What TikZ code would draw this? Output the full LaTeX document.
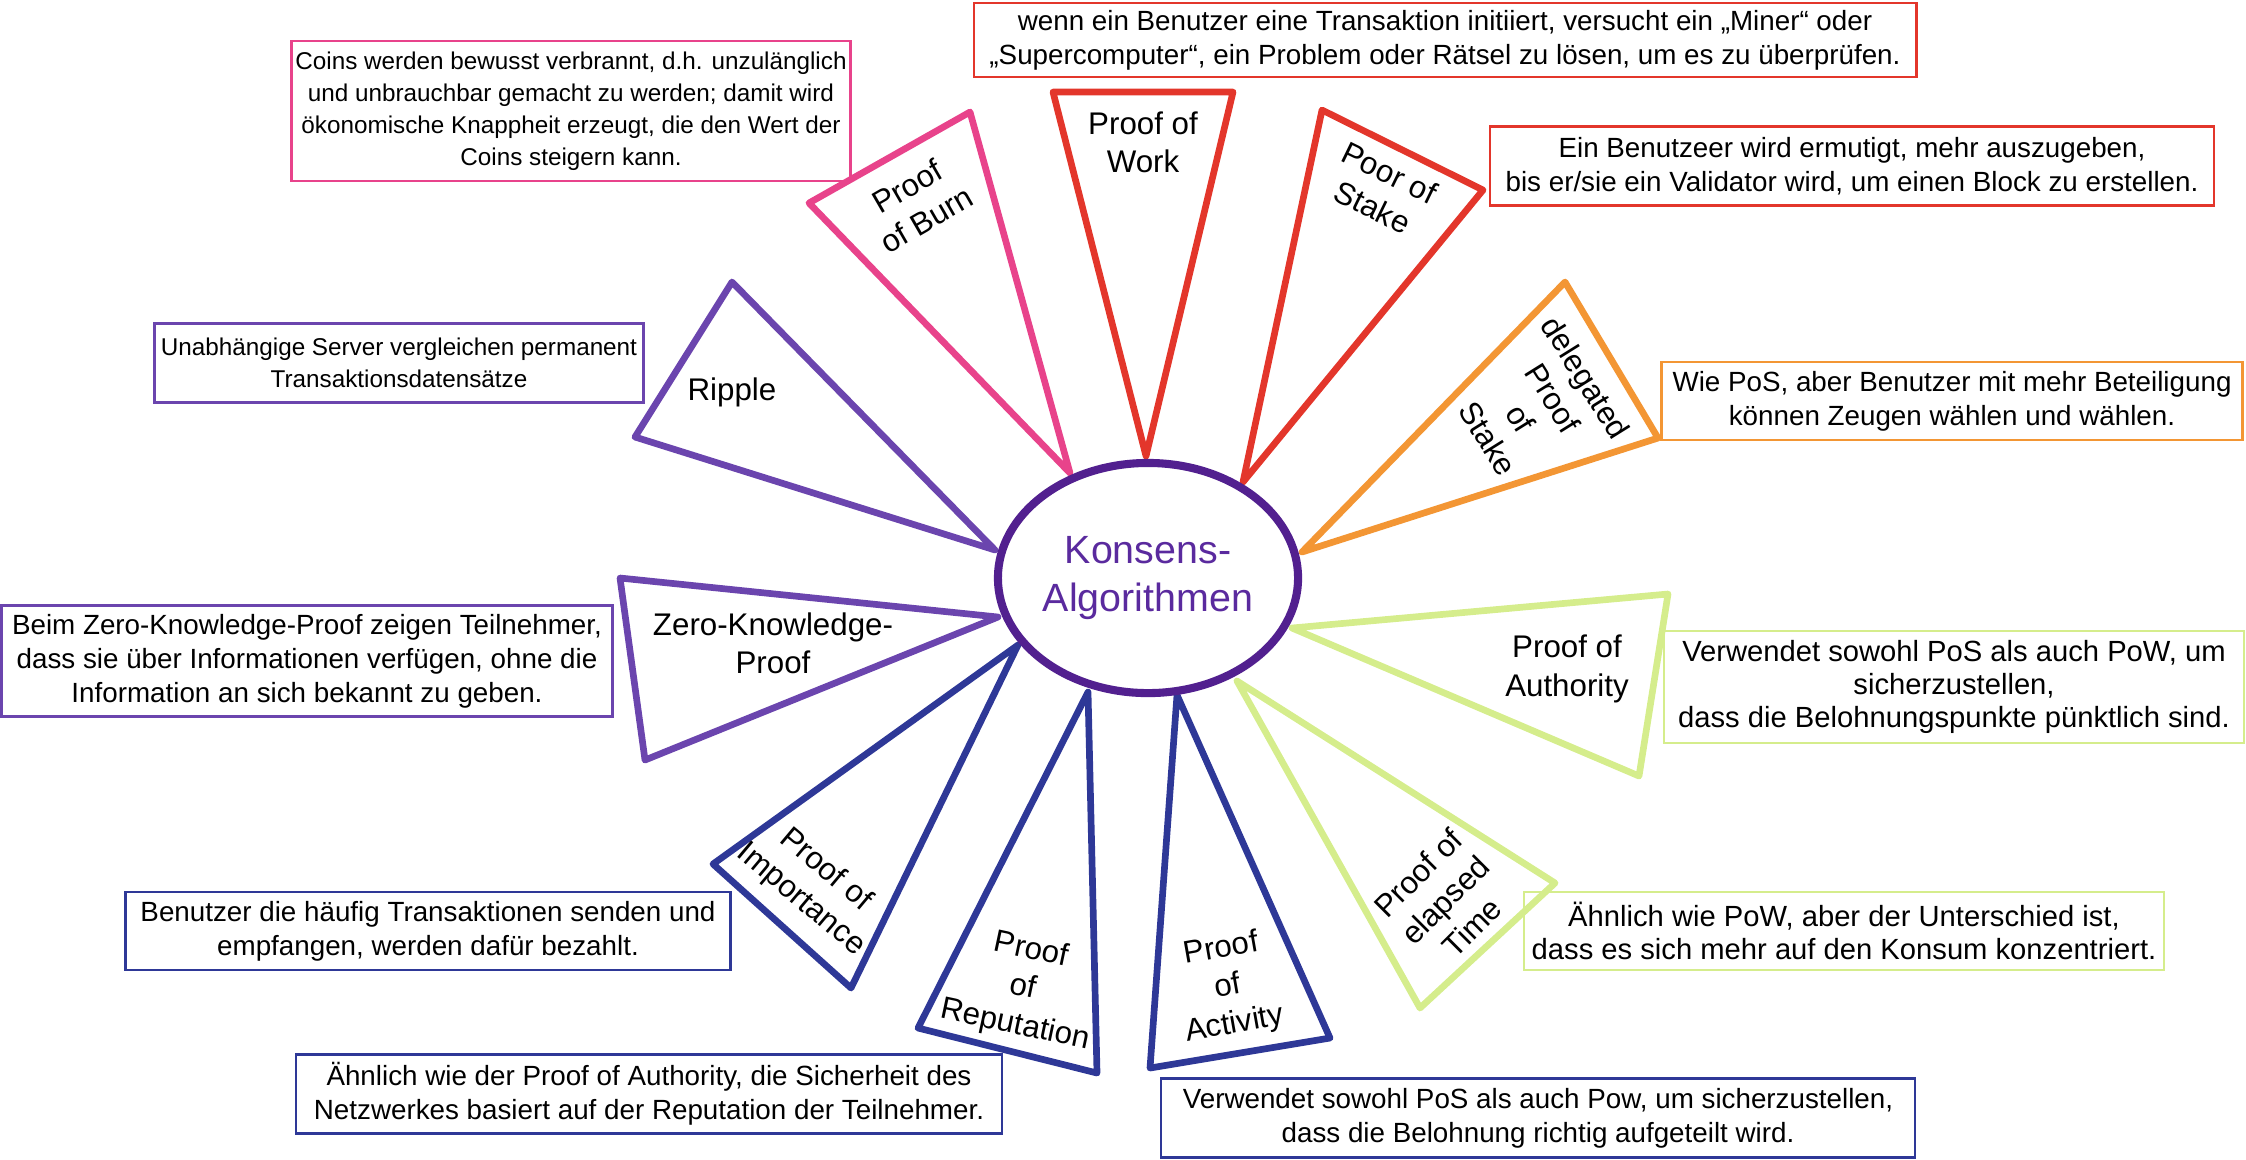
\documentclass[tikz,border=0pt]{standalone}
\usepackage{fontspec}
\setmainfont{Liberation Sans}
\usepackage{tikz}
\usetikzlibrary{shapes,positioning}

\definecolor{burnc}{HTML}{E8438B}
\definecolor{workc}{HTML}{E3362B}
\definecolor{dposc}{HTML}{F39634}
\definecolor{authc}{HTML}{D5ED8C}
\definecolor{ripc}{HTML}{6B45AE}
\definecolor{actc}{HTML}{2E3897}
\definecolor{hubc}{HTML}{52208F}
\definecolor{hubtc}{HTML}{5A2A9E}

\begin{document}
\begin{tikzpicture}[x=0.01cm, y=-0.01cm,
  tri/.style={line width=1.9pt, line join=round},
  info/.style={line width=0.7pt, inner sep=0pt, align=center, font=\fontsize{7.9}{9.7}\selectfont},
  small/.style={font=\fontsize{6.9}{9.1}\selectfont},
  large/.style={font=\fontsize{8.3}{9.4}\selectfont},
  lbl/.style={align=center, inner sep=0pt, font=\fontsize{8.9}{10.9}\selectfont},
  hub/.style={ellipse, draw=hubc, line width=2.3pt, fill=white, inner sep=0pt,
    minimum width=3cm, minimum height=2.3cm, text=hubtc, align=center,
    font=\fontsize{11.2}{13.4}\selectfont}]
   \useasboundingbox (0,0) rectangle (2246,1159);

   %descriptions
   \node[info, small, draw=burnc, minimum width=5.59cm, minimum height=1.40cm] (tpob) at (571,111)
     {Coins werden bewusst verbrannt, d.h. unzulänglich\\und unbrauchbar gemacht zu werden; damit wird\\ökonomische Knappheit erzeugt, die den Wert der\\Coins steigern kann.};
   \node[info, draw=workc, minimum width=9.42cm, minimum height=0.74cm] (tpow) at (1445,40)
     {wenn ein Benutzer eine Transaktion initiiert, versucht ein „Miner“ oder\\„Supercomputer“, ein Problem oder Rätsel zu lösen, um es zu überprüfen.};
   \node[info, draw=workc, minimum width=7.24cm, minimum height=0.79cm] (tpos) at (1852,166)
     {Ein Benutzeer wird ermutigt, mehr auszugeben,\\bis er/sie ein Validator wird, um einen Block zu erstellen.};
   \node[info, draw=dposc, minimum width=5.81cm, minimum height=0.78cm] (tdpos) at (1952,401)
     {Wie PoS, aber Benutzer mit mehr Beteiligung\\können Zeugen wählen und wählen.};
   \node[info, large, draw=authc, minimum width=5.80cm, minimum height=1.12cm] (tpoa) at (1954,687)
     {Verwendet sowohl PoS als auch PoW, um\\sicherzustellen,\\dass die Belohnungspunkte pünktlich sind.};
   \node[info, large, draw=authc, minimum width=6.40cm, minimum height=0.78cm] (tpet) at (1844,931)
     {Ähnlich wie PoW, aber der Unterschied ist,\\dass es sich mehr auf den Konsum konzentriert.};
   \node[info, draw=actc, minimum width=7.54cm, minimum height=0.79cm] (tpac) at (1538,1118)
     {Verwendet sowohl PoS als auch Pow, um sicherzustellen,\\dass die Belohnung richtig aufgeteilt wird.};
   \node[info, draw=actc, minimum width=7.06cm, minimum height=0.79cm] (tprp) at (649,1094)
     {Ähnlich wie der Proof of Authority, die Sicherheit des\\Netzwerkes basiert auf der Reputation der Teilnehmer.};
   \node[info, draw=actc, minimum width=6.05cm, minimum height=0.78cm] (tpim) at (428,931)
     {Benutzer die häufig Transaktionen senden und\\empfangen, werden dafür bezahlt.};
   \node[info, draw=ripc, minimum width=6.11cm, minimum height=1.11cm] (tzkp) at (307,661)
     {Beim Zero-Knowledge-Proof zeigen Teilnehmer,\\dass sie über Informationen verfügen, ohne die\\Information an sich bekannt zu geben.};
   \node[info, small, draw=ripc, minimum width=4.89cm, minimum height=0.79cm] (trip) at (399,363)
     {Unabhängige Server vergleichen permanent\\Transaktionsdatensätze};

   %triangles
   \draw[tri, burnc] (1070,473) -- (809,203) -- (970,112) -- cycle;
   \draw[tri, workc] (1146,456) -- (1053,92) -- (1233,92) -- cycle;
   \draw[tri, workc] (1243,482) -- (1322,110) -- (1483,190) -- cycle;
   \draw[tri, dposc] (1302,552) -- (1565,282) -- (1658,438) -- cycle;
   \draw[tri, authc] (1292,628) -- (1668,594) -- (1639,776) -- cycle;
   \draw[tri, authc] (1237,681) -- (1555,883) -- (1420,1008) -- cycle;
   \draw[tri, actc] (1177,695) -- (1330,1038) -- (1150,1068) -- cycle;
   \draw[tri, actc] (1088,692) -- (1097,1073) -- (918,1028) -- cycle;
   \draw[tri, actc] (1018,645) -- (851,988) -- (713,864) -- cycle;
   \draw[tri, ripc] (998,617) -- (645,760) -- (620,578) -- cycle;
   \draw[tri, ripc] (995,550) -- (635,437) -- (732,282) -- cycle;

   %hub
   \node[hub] (kons) at (1148,578) {Konsens-\\Algorithmen};

   %labels
   \node[lbl, rotate=30] (pob) at (917,203) {Proof\\of Burn};
   \node[lbl] (pow) at (1143,142) {Proof of\\Work};
   \node[lbl, rotate=-26] (pos) at (1381,190) {Poor of\\Stake};
   \node[lbl, rotate=-58] (dpos) at (1537,408) {delegated\\Proof\\of\\Stake};
   \node[lbl] (poa) at (1567,669) {Proof of\\Authority};
   \node[lbl, rotate=45] (pet) at (1445,900) {Proof of\\elapsed\\Time};
   \node[lbl, rotate=10] (pac) at (1228,987) {Proof\\of\\Activity};
   \node[lbl, rotate=-12] (prp) at (1023,988) {Proof\\of\\Reputation};
   \node[lbl, rotate=-40] (pim) at (813,885) {Proof of\\Importance};
   \node[lbl] (zkp) at (773,643) {Zero-Knowledge-\\Proof};
   \node[lbl] (rip) at (732,392) {Ripple};
\end{tikzpicture}
\end{document}
